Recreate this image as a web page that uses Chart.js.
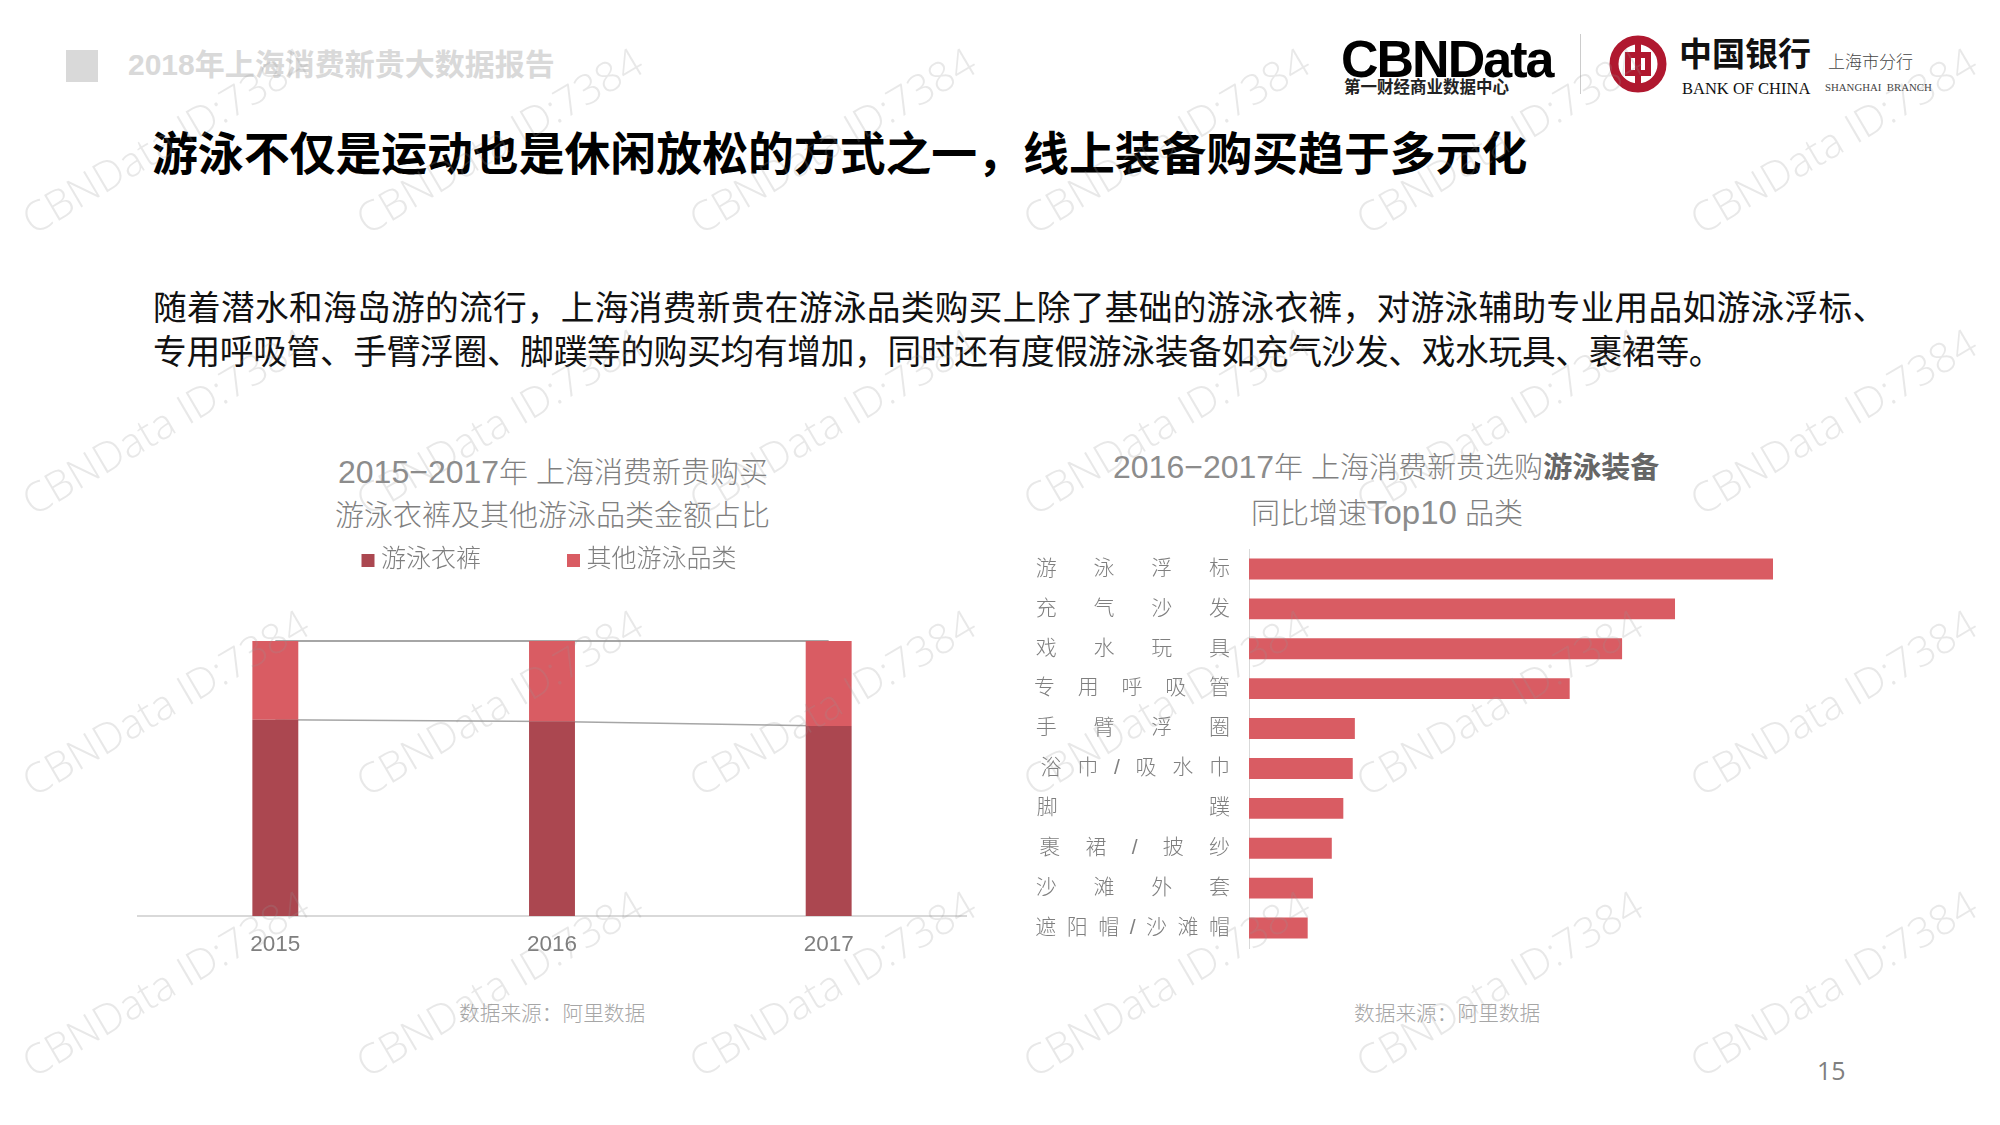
<!DOCTYPE html>
<html lang="zh"><head><meta charset="utf-8">
<script src="https://cdn.jsdelivr.net/npm/chart.js@4"></script>
<style>
html,body{margin:0;padding:0;background:#fff;width:2000px;height:1125px;overflow:hidden}
body{position:relative;font-family:"Liberation Sans","Noto Sans CJK SC",sans-serif}
.t{position:absolute;white-space:nowrap;line-height:1}
.n{font-size:32px;font-weight:400;color:#8c8c8c}
canvas{position:absolute}
#wm{position:absolute;left:0;top:0;width:2000px;height:1125px;pointer-events:none;overflow:hidden}
#wm span{position:absolute;font:300 41.5px "Open Sans","Noto Sans",sans-serif;color:rgba(150,150,150,.22);transform-origin:0 100%;transform:rotate(-30.5deg);white-space:nowrap;line-height:1}
</style></head><body>
<div class="t" style="left:66px;top:50px;width:32px;height:32px;background:#d9d9d9"></div>
<div class="t" style="left:128px;top:50px;font-size:30px;font-weight:700;color:#d9d9d9">2018年上海消费新贵大数据报告</div>
<div class="t" style="left:152px;top:132px;font-size:45.85px;font-weight:700;color:#000">游泳不仅是运动也是休闲放松的方式之一，线上装备购买趋于多元化</div>
<div class="t" style="left:153px;top:292px;font-size:33.7px;letter-spacing:.3px;color:#111">随着潜水和海岛游的流行，上海消费新贵在游泳品类购买上除了基础的游泳衣裤，对游泳辅助专业用品如游泳浮标、</div>
<div class="t" style="left:153px;top:336px;font-size:33.7px;letter-spacing:-.3px;color:#111">专用呼吸管、手臂浮圈、脚蹼等的购买均有增加，同时还有度假游泳装备如充气沙发、戏水玩具、裹裙等。</div>

<div class="t" style="left:1341px;top:29px;font:700 52px 'Liberation Sans',sans-serif;letter-spacing:-2px;color:#000">CBNData</div>
<div class="t" style="left:1344px;top:79px;font-size:16.5px;font-weight:700;color:#222">第一财经商业数据中心</div>
<div class="t" style="left:1580px;top:34px;width:1px;height:60px;background:#ccc"></div>
<svg class="t" style="left:1608px;top:34px" width="60" height="60" viewBox="0 0 60 60">
<circle cx="30" cy="30" r="24" fill="none" stroke="#b0182f" stroke-width="9"/>
<rect x="20" y="21" width="20" height="18" fill="none" stroke="#b0182f" stroke-width="6"/>
<rect x="27" y="4" width="6" height="52" fill="#b0182f"/>
</svg>
<div class="t" style="left:1679px;top:36px;font-size:33px;font-weight:700;color:#111;font-family:'Noto Sans CJK SC'">中国银行</div>
<div class="t" style="left:1682px;top:79px;font:16.5px 'Liberation Serif',serif;color:#111">BANK OF CHINA</div>
<div class="t" style="left:1828px;top:54px;font-size:17px;font-weight:300;color:#444">上海市分行</div>
<div class="t" style="left:1825px;top:81px;font:10.8px 'Liberation Serif',serif;color:#444">SHANGHAI&nbsp; BRANCH</div>

<div class="t" style="left:338px;top:456px;font-size:29px;font-weight:300;color:#7f7f7f"><span class="n">2015−2017</span>年 上海消费新贵购买</div>
<div class="t" style="left:335px;top:502px;font-size:29px;font-weight:300;color:#7f7f7f">游泳衣裤及其他游泳品类金额占比</div>
<div class="t" style="left:1113px;top:451px;font-size:29px;font-weight:300;color:#7f7f7f"><span class="n">2016−2017</span>年 上海消费新贵选购<b style="font-weight:700;color:#666">游泳装备</b></div>
<div class="t" style="left:1251px;top:496px;font-size:29px;font-weight:300;color:#7f7f7f">同比增速<span class="n" style="font-size:33px">Top10</span> 品类</div>

<canvas id="left" style="left:137px;top:456px" width="830" height="514"></canvas>
<canvas id="right" style="left:1020px;top:540px" width="770" height="420"></canvas>

<div class="t" style="left:459px;top:1004px;font-size:20.7px;font-weight:300;color:#a6a6a6">数据来源：阿里数据</div>
<div class="t" style="left:1354px;top:1004px;font-size:20.7px;font-weight:300;color:#a6a6a6">数据来源：阿里数据</div>
<div class="t" style="left:1817px;top:1053px;font:25px 'Open Sans',sans-serif;color:#7f7f7f">15</div>
<div id="wm"></div>

<script>
const years = ['2015', '2016', '2017'];
const swimwearShare = [71.4, 70.7, 69.1];
const otherShare = [28.6, 29.3, 30.9];
const totalShare = [100, 100, 100];
const legendNames = ['游泳衣裤', '其他游泳品类'];

const gearCategories = ['游泳浮标','充气沙发','戏水玩具','专用呼吸管','手臂浮圈','浴巾/吸水巾','脚蹼','裹裙/披纱','沙滩外套','遮阳帽/沙滩帽'];
const gearGrowth = [100, 81.3, 71.2, 61.2, 20.2, 19.8, 18.0, 15.8, 12.2, 11.2];

const GREY = '#7f7f7f', DARK = '#ab4750', LIGHT = '#d95c63';
const family = '"Liberation Sans","Noto Sans CJK SC",sans-serif';
Chart.defaults.animation = false;
Chart.defaults.responsive = false;
Chart.defaults.devicePixelRatio = 1;

const legendHeight = {id:'legendHeight', beforeLayout(chart){
  const legend = chart.legend, fit = legend.fit;
  legend.fit = function(){ fit.call(this); this.height = 185; };
}};

new Chart(document.getElementById('left'), {
  type:'bar',
  plugins:[legendHeight],
  data:{labels:years, datasets:[
    {label:legendNames[0], data:swimwearShare, backgroundColor:DARK, stack:'s', order:1, barPercentage:.166, categoryPercentage:1},
    {label:legendNames[1], data:otherShare, backgroundColor:LIGHT, stack:'s', order:1, barPercentage:.166, categoryPercentage:1},
    {type:'line', label:'l1', data:swimwearShare, stack:'l1', order:2, borderColor:'#a6a6a6', borderWidth:1.5, pointRadius:0, tension:0, clip:false},
    {type:'line', label:'l2', data:totalShare, stack:'l2', order:2, borderColor:'#a6a6a6', borderWidth:2, pointRadius:0, tension:0, clip:false}
  ]},
  options:{
    plugins:{title:{display:false},tooltip:{enabled:false},
      legend:{position:'top',labels:{boxWidth:1,boxHeight:1,padding:92,color:GREY,font:{family,size:25,weight:300},
        generateLabels(chart){
          return Chart.defaults.plugins.legend.labels.generateLabels(chart)
            .filter(i=>i.datasetIndex<2)
            .map(i=>Object.assign(i,{lineWidth:12,strokeStyle:i.fillStyle}));
        }}}},
    scales:{
      x:{stacked:true,grid:{display:false,drawTicks:false},border:{color:'#d9d9d9',width:2},
         ticks:{color:GREY,padding:15,font:{family,size:22.5,weight:300}},afterFit(s){s.height=54;}},
      y:{display:false,stacked:true,min:0,max:100}
    }
  }
});

const REST = [[0,''],[.07,'\u200a'],[.167,'\u2006'],[.2,'\u2009'],[.25,'\u2005'],[.333,'\u2004'],[.5,'\u2002'],[.7,'\u2002\u2009'],[.75,'\u2002\u2005'],[.77,'\u2002\u2006\u200a'],[1,'\u3000']];
function spaced(label){
  const chars = Array.from(label);
  const em = chars.reduce((w,c)=>w+(c==='/'?.3:1),0);
  const g = (9.19-em)/(chars.length-1);
  const whole = Math.floor(g), r = g-whole;
  const best = REST.reduce((a,b)=>Math.abs(b[0]-r)<Math.abs(a[0]-r)?b:a);
  return chars.join('\u3000'.repeat(whole)+best[1]);
}
new Chart(document.getElementById('right'), {
  type:'bar',
  data:{labels:gearCategories, datasets:[{data:gearGrowth, backgroundColor:LIGHT, barPercentage:.524, categoryPercentage:1}]},
  options:{
    indexAxis:'y',
    layout:{padding:{top:9,bottom:12,right:17}},
    plugins:{legend:{display:false},tooltip:{enabled:false}},
    scales:{
      x:{display:false,min:0,max:100},
      y:{grid:{display:false,drawTicks:false},border:{color:'#d9d9d9',width:1},afterFit(s){s.width=229;s.paddingTop=0;s.paddingBottom=0;},
         ticks:{autoSkip:false,padding:19,color:GREY,font:{family,size:21,weight:300},
           callback(v){return spaced(this.getLabelForValue(v));}}}
    }
  }
});

const wm = document.getElementById('wm');
const wmX = [36, 369.5, 703, 1036.5, 1370, 1703.5];
const wmY = [240, 521, 802, 1083];
for(const y of wmY) for(const x of wmX){
  const s = document.createElement('span');
  s.textContent = 'CBNData ID:7384';
  s.style.left = x+'px'; s.style.top = (y-41)+'px';
  wm.appendChild(s);
}
</script>
</body></html>
